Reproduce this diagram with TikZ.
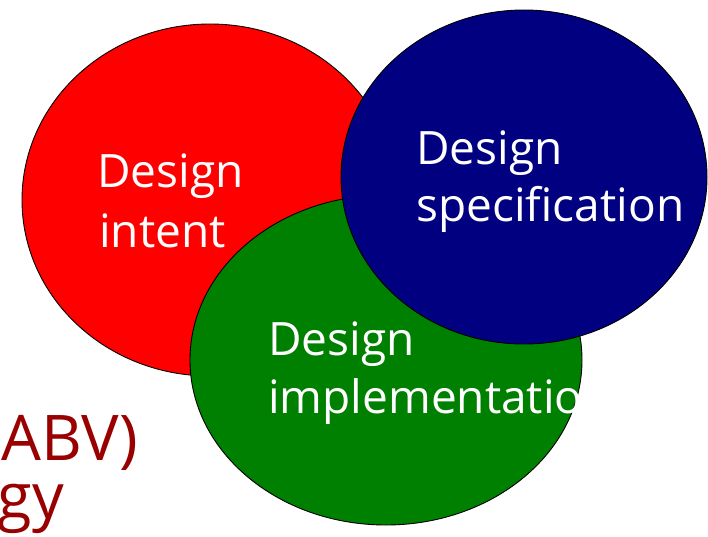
\documentclass[tikz,border=0pt]{standalone}
\usepackage{fontspec}
\setmainfont{Open Sans}
\definecolor{setred}{HTML}{FF0000}
\definecolor{setgreen}{HTML}{008000}
\definecolor{setblue}{HTML}{000080}
\definecolor{titlered}{HTML}{990000}
\begin{document}
\begin{tikzpicture}[x=1pt,y=-1pt,
  setshape/.style={draw=black,line width=0.9pt},
  setlabel/.style={anchor=base west,inner sep=0pt,text=white,font=\fontsize{46}{50}\selectfont},
  slidetext/.style={anchor=base east,inner sep=0pt,text=titlered,font=\fontsize{63}{66}\selectfont}]
  \useasboundingbox (0,0) rectangle (708,537);
  % text of the slide behind the diagram
  \node[slidetext] (abv) at (138,460) {(ABV)};
  \node[slidetext] (gy) at (64,518) {gy};
  % three overlapping sets
  \draw[setshape,fill=setred] (210,200) ellipse [x radius=188,y radius=176];
  \draw[setshape,fill=setgreen] (386,360) ellipse [x radius=196,y radius=165];
  \draw[setshape,fill=setblue] (524,177) ellipse [x radius=183,y radius=167];
  % set labels
  \node[setlabel] (intent1) at (97,188) {Design};
  \node[setlabel] (intent2) at (99,247) {intent};
  \node[setlabel] (spec1) at (416,165) {Design};
  \node[setlabel] (spec2) at (416,222) {specification};
  \node[setlabel] (impl1) at (268,355) {Design};
  \node[setlabel] (impl2) at (268,413) {implementation};
\end{tikzpicture}
\end{document}
